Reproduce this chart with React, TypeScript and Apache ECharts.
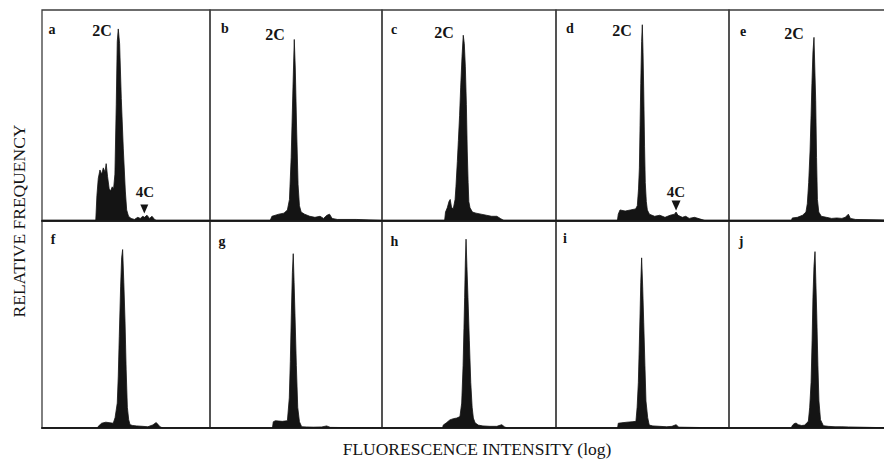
import React, { useEffect, useRef } from "react";
import * as echarts from "echarts";

// ---- Data (x: % of channel range on log scale, y: % of panel height) ----
const panelLetters = ["a", "b", "c", "d", "e", "f", "g", "h", "i", "j"];

const histA = [[0,0],[32,0],[32.7,12],[33.5,20],[34.5,24],[35.5,22],[36.5,25],[37.5,23],[38.2,27],[39,21],[40,15],[40.8,14],[41.8,16],[42.6,15],[43.4,22],[44.2,55],[44.8,85],[45.4,91],[46.2,84],[47.2,58],[48.4,34],[49.6,14],[50.4,5],[51.5,2],[53,1],[55,0.5],[57,1.5],[58.5,1],[60,2],[61,1.5],[62.5,2.5],[64,1],[65.5,2],[67,0.5],[68,0],[100,0]];
const histB = [[0,0],[35,0],[36,2],[40,3],[43,3.5],[45,5],[46.2,10],[47.2,30],[48.2,62],[49,86],[49.6,72],[50.4,42],[51.2,17],[52,7],[53,4],[55,3],[58,2],[61,1.5],[64,2],[66,1],[68,2.5],[69.5,3],[71,1],[74,0.5],[85,0.5],[100,0]];
const histC = [[0,0],[36,0],[36.5,4],[37.5,6],[38.5,9],[39.2,10],[40,6],[41,5.7],[42,10],[42.5,16],[43.3,28],[43.9,38],[44.6,50],[45.2,63],[46,78],[46.7,88],[47.3,84],[47.9,73],[48.5,55],[49,33],[49.5,18],[49.9,9],[50.6,6],[52,4],[54,3.5],[57,3],[60,2.5],[63,2],[66,2],[68,1],[70,0],[100,0]];
const histD = [[0,0],[35.5,0],[36,3],[37,5],[40,4.5],[43,5],[46,5.5],[47,7],[47.7,15],[48.2,25],[48.6,45],[49,65],[49.5,85],[49.9,93],[50.3,80],[50.7,62],[51.2,35],[51.6,18],[52.2,9],[52.8,5],[54,3],[57,2],[60,2.5],[63,1.5],[66,2.5],[68.5,3],[69.4,4],[70.5,2.5],[73,1.5],[75,2],[77,1],[80,1.5],[83,0.8],[86,0],[100,0]];
const histE = [[0,0],[36.5,0],[37,1.2],[40,1.5],[43,2.5],[45,4],[45.8,8],[46.6,18],[47.4,33],[48,50],[48.5,65],[49.1,80],[49.7,87],[50.2,72],[50.7,57],[51.2,30],[51.7,10],[52.5,4],[54,2],[57,1.5],[60,1],[63,1.2],[66,1],[68,1.5],[69.8,3],[71,1],[74,0.5],[100,0]];
const histF = [[0,0],[33,0],[33.5,0.8],[35.5,2.3],[38,2.8],[42.4,2.3],[43.5,5],[44.8,12],[45.4,25],[46,44],[46.8,68],[47.4,82],[48,86],[48.7,70],[49.4,52],[50.1,28],[50.8,10],[51.6,4],[52.4,1.6],[54,1.2],[56.4,1],[60,0.8],[63,0.6],[66,1.5],[67.9,2.6],[69,1.8],[70.2,0.6],[72,0],[100,0]];
const histG = [[0,0],[36.3,0],[36.8,3],[38,3.5],[42,3.2],[45,3.5],[46.1,14.5],[46.7,32],[47.3,55],[47.9,75],[48.4,84],[48.9,70],[49.4,55],[50.2,30],[51,10],[52,3],[53.3,0.6],[56,0.5],[60,0.4],[65,0.5],[67.8,1],[70,0.3],[100,0]];
const histH = [[0,0],[34.8,0],[35.2,1.4],[37,2.5],[39,3.9],[41,4.5],[43,4.8],[44.8,5.5],[45.8,12],[46.6,30],[47.1,48],[47.5,63],[47.9,80],[48.3,91],[48.8,78],[49.4,63],[50.2,42],[51,22],[51.8,10],[52.5,4.8],[53.5,2.5],[55.3,1.4],[58,1],[62,0.8],[66,0.8],[68.8,1.6],[70.5,0.5],[72,0],[100,0]];
const histI = [[0,0],[35.6,0],[36,2.3],[38,2.5],[41,2.8],[44,3],[46.2,3.2],[46.9,10],[47.6,22],[48.1,38],[48.6,55],[49,70],[49.5,82],[50.1,68],[50.7,51],[51.4,30],[52,13],[53,5],[53.9,1.4],[56,1],[60,0.8],[64,0.6],[67,0.8],[69.4,1.6],[71,0.4],[100,0]];
const histJ = [[0,0],[36.5,0],[36.9,1.1],[38,2],[39.2,2.4],[40.5,1.6],[42.5,1.2],[44.4,1.4],[45.5,2.5],[46.4,3.2],[47.2,10],[48,22],[48.6,42],[49.1,63],[49.7,78],[50.3,85],[50.8,70],[51.3,55],[52,30],[52.6,13],[53.5,4],[55.2,1.1],[58,0.8],[62,0.6],[66,0.6],[70,0.5],[100,0]];

const histograms = [histA, histB, histC, histD, histE, histF, histG, histH, histI, histJ];

// 4C arrow markers (panel a and d)
const marker4CA = [60.9, 5.5];
const marker4CD = [69.4, 7.1];

const X_MIN = 0;
const X_MAX = 100;
const Y_MIN = 0;
const Y_MAX = 100;

// ---- Layout ----
const colLefts = [42, 210, 382, 556, 729];
const colWidths = [168, 172, 174, 173, 171];
const rowTops = [10, 220.5];
const rowHeights = [210.5, 207.5];

const SERIF = '"Liberation Serif", "Times New Roman", serif';
const INK = "#141414";

export default function App() {
  const ref = useRef<HTMLDivElement>(null);

  useEffect(() => {
    if (!ref.current) return;
    const chart = echarts.init(ref.current, undefined, { renderer: "svg" });

    const grids: any[] = [];
    const xAxes: any[] = [];
    const yAxes: any[] = [];
    const series: any[] = [];

    histograms.forEach((data, i) => {
      const row = Math.floor(i / 5);
      const col = i % 5;
      grids.push({
        left: colLefts[col],
        top: rowTops[row],
        width: colWidths[col],
        height: rowHeights[row],
        show: true,
        borderColor: "#3c3c3c",
        borderWidth: 1.3,
        containLabel: false,
      });
      xAxes.push({
        type: "value",
        gridIndex: i,
        min: X_MIN,
        max: X_MAX,
        axisLine: { show: true, onZero: false, lineStyle: { color: "#222", width: 2 } },
        axisTick: { show: false },
        axisLabel: { show: false },
        splitLine: { show: false },
      });
      yAxes.push({
        type: "value",
        gridIndex: i,
        min: Y_MIN,
        max: Y_MAX,
        show: false,
        splitLine: { show: false },
      });
      const s: any = {
        type: "line",
        xAxisIndex: i,
        yAxisIndex: i,
        data,
        symbol: "none",
        smooth: false,
        lineStyle: { color: INK, width: 0.8 },
        areaStyle: { color: INK, opacity: 1 },
        itemStyle: { color: INK },
        z: 2,
      };
      if (i === 0 || i === 3) {
        const m = i === 0 ? marker4CA : marker4CD;
        s.markPoint = {
          symbol: "triangle",
          symbolRotate: 180,
          symbolSize: i === 0 ? [8, 9] : [9, 10],
          itemStyle: { color: INK },
          label: { show: false },
          data: [{ coord: m }],
        };
      }
      series.push(s);
    });

    const txt = (text: string, x: number, y: number, size: number, bold = true, extra: any = {}) => ({
      type: "text",
      x,
      y,
      ...extra,
      style: {
        text,
        font: `${bold ? "bold " : ""}${size}px ${SERIF}`,
        fill: INK,
        align: "center",
        verticalAlign: "middle",
      },
    });

    const letterPos = [
      [52, 29], [225, 28], [394, 29], [570, 28], [743, 31],
      [53, 239], [222, 241], [394.5, 241], [565, 238], [741, 241],
    ];
    const graphics: any[] = panelLetters.map((l, i) => txt(l, letterPos[i][0], letterPos[i][1], 14));
    const twoC = [[102, 30], [275, 34], [444, 32], [622, 30], [794, 33]];
    twoC.forEach((p) => graphics.push(txt("2C", p[0], p[1], 16)));
    graphics.push(txt("4C", 145, 192, 15));
    graphics.push(txt("4C", 676, 192, 15));
    graphics.push(txt("FLUORESCENCE INTENSITY (log)", 477, 449, 17.5, false));
    graphics.push(txt("RELATIVE FREQUENCY", 19, 221, 17.5, false, { rotation: Math.PI / 2 }));

    chart.setOption({
      animation: false,
      backgroundColor: "#ffffff",
      grid: grids,
      xAxis: xAxes,
      yAxis: yAxes,
      series,
      graphic: graphics,
    });

    return () => chart.dispose();
  }, []);

  return (
    <div style={{ position: "absolute", left: 0, top: 0, width: 884, height: 459, overflow: "hidden", background: "#fff" }}>
      <div ref={ref} style={{ width: 910, height: 459 }} />
    </div>
  );
}
